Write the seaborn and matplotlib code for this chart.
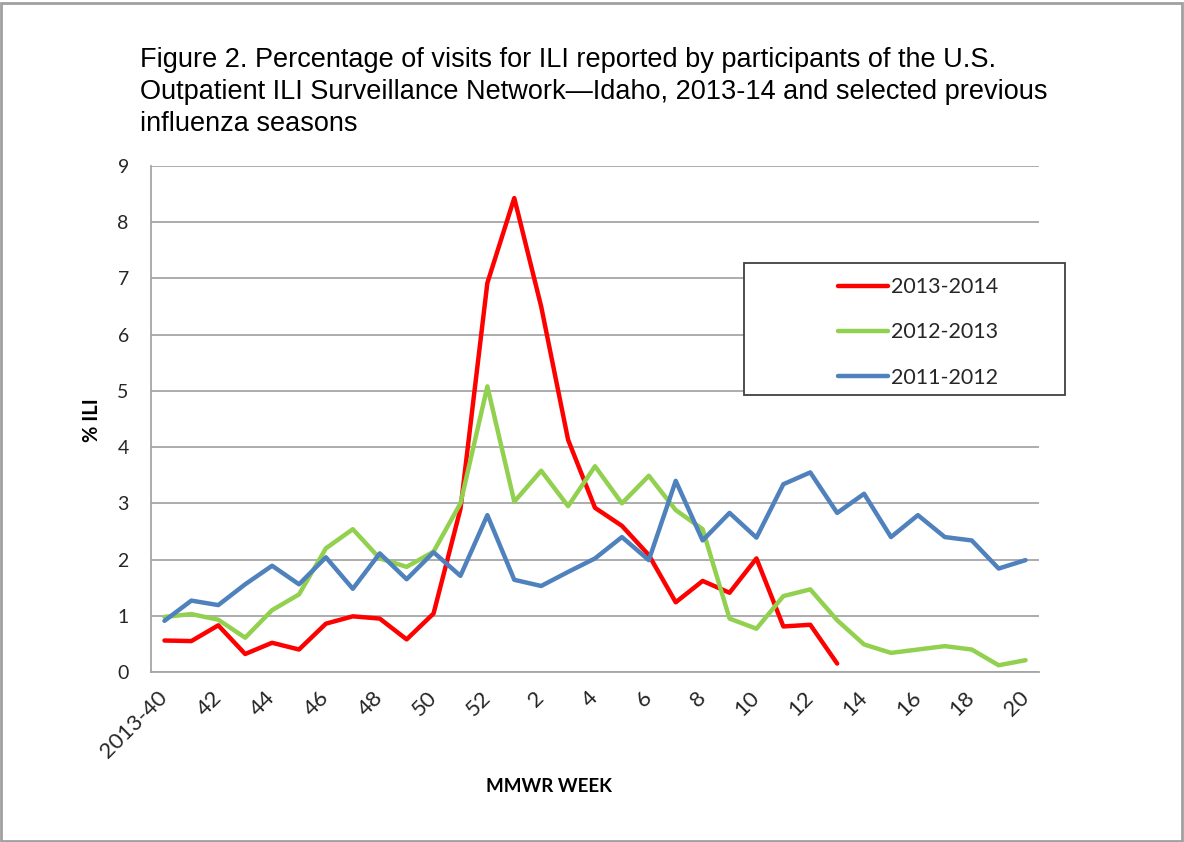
import numpy as np
import pandas as pd
import matplotlib
matplotlib.use("Agg")
import matplotlib.pyplot as plt
from matplotlib.patches import Rectangle
from matplotlib.lines import Line2D
import seaborn as sns

weeks = ["2013-40", "41", "42", "43", "44", "45", "46", "47", "48", "49", "50", "51", "52",
         "1", "2", "3", "4", "5", "6", "7", "8", "9", "10", "11", "12", "13", "14", "15",
         "16", "17", "18", "19", "20"]
tick_labels = ["2013-40", "42", "44", "46", "48", "50", "52", "2", "4", "6", "8", "10",
               "12", "14", "16", "18", "20"]

s2013_2014 = [0.56, 0.55, 0.83, 0.32, 0.52, 0.40, 0.86, 0.99, 0.95, 0.58, 1.04, 2.9,
              6.92, 8.43, 6.5, 4.13, 2.92, 2.6, 2.08, 1.24, 1.62, 1.41, 2.02, 0.81, 0.84, 0.15]
s2012_2013 = [0.98, 1.03, 0.93, 0.61, 1.10, 1.38, 2.2, 2.54, 2.02, 1.87, 2.14, 3.0,
              5.08, 3.03, 3.58, 2.95, 3.66, 3.0, 3.49, 2.88, 2.54, 0.95, 0.77, 1.35,
              1.47, 0.92, 0.49, 0.34, 0.40, 0.46, 0.40, 0.12, 0.21]
s2011_2012 = [0.91, 1.27, 1.19, 1.56, 1.89, 1.56, 2.04, 1.48, 2.11, 1.65, 2.13, 1.71,
              2.79, 1.64, 1.53, 1.78, 2.02, 2.40, 1.99, 3.40, 2.34, 2.83, 2.39, 3.34,
              3.55, 2.83, 3.17, 2.40, 2.79, 2.40, 2.34, 1.84, 1.99]
series_names = ["2013-2014", "2012-2013", "2011-2012"]
colors = ["#ff0000", "#92d050", "#4f81bd"]

rows = []
for name, vals in zip(series_names, [s2013_2014, s2012_2013, s2011_2012]):
    for i, v in enumerate(vals):
        rows.append({"idx": i, "week": weeks[i], "value": v, "season": name})
df = pd.DataFrame(rows)

sns.set_theme(style="white")
plt.rcParams["font.family"] = ["Lato", "DejaVu Sans"]

W, H = 1184, 842
fig = plt.figure(figsize=(W / 100, H / 100), dpi=100)
ax = fig.add_axes([151 / W, 1 - 672 / H, (1039 - 151) / W, (672 - 166) / H])

sns.lineplot(data=df, x="idx", y="value", hue="season", hue_order=series_names,
             palette=colors, linewidth=3.2, ax=ax, legend=False, sort=False)

grid_c = "#a6a6a6"
ax.set_xlim(-0.5, len(weeks) - 0.5)
ax.set_ylim(0, 9)
ax.set_yticks(range(0, 10))
ax.yaxis.grid(True, color=grid_c, linewidth=1.3)
ax.xaxis.grid(False)
ax.set_axisbelow(True)
for sp in ["top", "right"]:
    ax.spines[sp].set_visible(False)
for sp in ["left", "bottom"]:
    ax.spines[sp].set_color(grid_c)
    ax.spines[sp].set_linewidth(1.3)

# major ticks at category boundaries, labels on minor ticks at category centres
ax.set_xticks(np.arange(-0.5, len(weeks), 1.0))
ax.set_xticklabels([])
label_pos = [weeks.index(t) for t in tick_labels]
ax.set_xticks(label_pos, minor=True)
ax.set_xticklabels(tick_labels, minor=True, rotation=45, ha="right", va="center",
                   rotation_mode="anchor", fontsize=16, color="#262626")
ax.tick_params(axis="x", which="major", length=6, width=1.3, color=grid_c, direction="out")
ax.tick_params(axis="x", which="minor", length=0, pad=16)
ax.tick_params(axis="y", which="major", length=7, width=1.3, color=grid_c, direction="out",
               labelsize=14, labelcolor="#262626", pad=9)
ax.set_xlabel("")
ax.set_ylabel("")

fig.text(92 / W, 1 - 420 / H, "% ILI", rotation=90, ha="center", va="center",
         fontsize=14.5, fontweight="bold", color="black")
fig.text(549 / W, 1 - 787 / H, "MMWR WEEK", ha="center", va="center",
         fontsize=13.5, fontweight="bold", color="black")

title = ("Figure 2. Percentage of visits for ILI reported by participants of the U.S.\n"
         "Outpatient ILI Surveillance Network\u2014Idaho, 2013-14 and selected previous\n"
         "influenza seasons")
fig.text(140 / W, 1 - 47 / H, title, ha="left", va="top", fontsize=19.5,
         family=["Liberation Sans", "DejaVu Sans"], linespacing=1.29, color="black")

# legend box
fig.patches.append(Rectangle((744 / W, 1 - 395 / H), (1065 - 744) / W, (395 - 263) / H,
                             transform=fig.transFigure, fill=True, facecolor="white",
                             edgecolor="#404040", linewidth=1.3, zorder=5))
handles = [Line2D([], [], color=c, linewidth=3.2) for c in colors]
leg = fig.legend(handles, series_names, loc="upper left",
                 bbox_to_anchor=(823 / W, 1 - 262 / H), frameon=False, fontsize=15.5,
                 handlelength=2.3, handletextpad=0.15, labelspacing=1.18,
                 borderpad=0.2)
leg.set_zorder(6)

# outer border
fig.patches.append(Rectangle((1 / W, 1 / H), (W - 3) / W, (H - 4) / H,
                             transform=fig.transFigure, fill=False,
                             edgecolor="#a0a0a0", linewidth=2.0, zorder=10))

fig.savefig("out.png", dpi=100)
